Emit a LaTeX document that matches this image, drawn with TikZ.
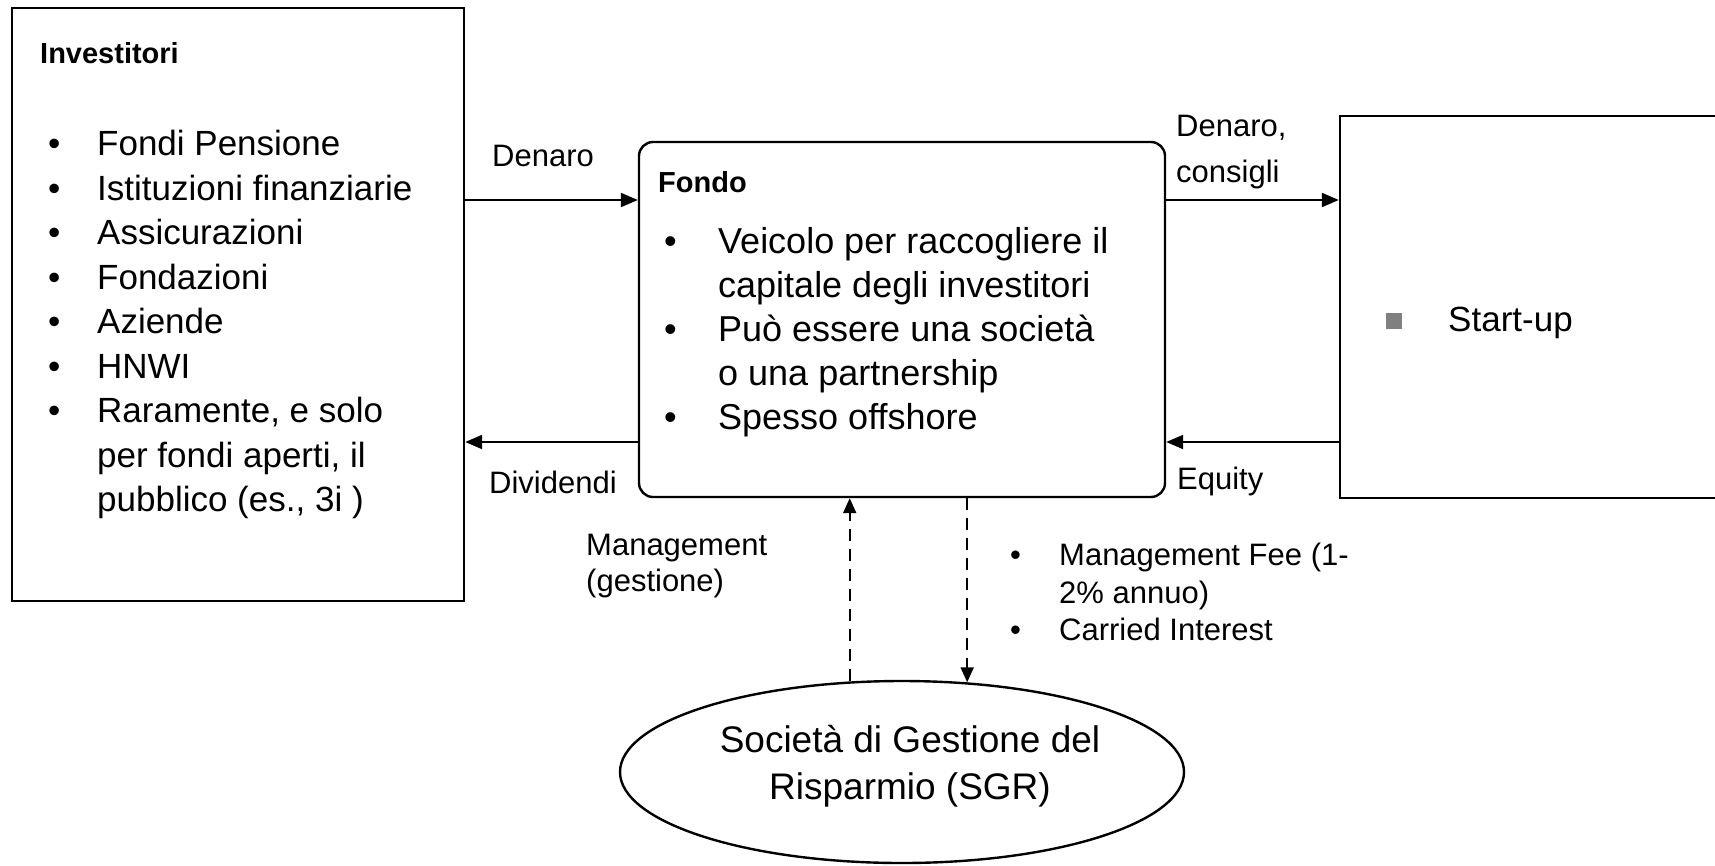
\documentclass[tikz,border=0pt]{standalone}
\usepackage{fontspec}
\setmainfont{Liberation Sans}
\usetikzlibrary{arrows.meta,shapes.geometric}

\definecolor{bulgray}{RGB}{128,128,128}
\newcommand{\bul}[1]{\makebox[#1][l]{\textbullet}}

\tikzset{
  box/.style={draw, line width=2.4pt, inner sep=0pt},
  flow/.style={line width=2pt, -{Triangle[length=17pt,width=14pt]}},
  dflow/.style={line width=2pt, dash pattern=on 12pt off 8pt, -{Triangle[length=15pt,width=13pt]}},
  big/.style={font=\fontsize{36}{44.5}\selectfont, align=left, inner sep=0pt},
  small/.style={font=\fontsize{31}{37.5}\selectfont, align=left, inner sep=0pt},
  title/.style={font=\fontsize{29}{35}\selectfont\bfseries, inner sep=0pt}
}

\begin{document}
\begin{tikzpicture}[x=1pt,y=-1pt]
  \clip (0,0) rectangle (1715,865);

  % boxes
  \node[box, minimum width=452pt, minimum height=593pt] (inv) at (238,304.5) {};
  \node[box, rounded corners=14pt, minimum width=526pt, minimum height=355pt] (fondo) at (902,319.5) {};
  \node[box, minimum width=420pt, minimum height=382pt] (startup) at (1550,307) {};
  \node[box, ellipse, minimum width=564pt, minimum height=182pt] (sgr) at (902,772) {};

  % texts in the boxes
  \node[title, anchor=base west] (invT) at (40,63) {Investitori};
  \node[big, anchor=north west, font=\fontsize{35}{44.5}\selectfont] (invL) at (48,130) {\bul{49pt}Fondi Pensione\\
    \bul{49pt}Istituzioni finanziarie\\
    \bul{49pt}Assicurazioni\\
    \bul{49pt}Fondazioni\\
    \bul{49pt}Aziende\\
    \bul{49pt}HNWI\\
    \bul{49pt}Raramente, e solo\\
    \hspace*{49pt}per fondi aperti, il\\
    \hspace*{49pt}pubblico (es., 3i )};

  \node[title, anchor=base west] (fondoT) at (658,192) {Fondo};
  \node[big, anchor=north west, font=\fontsize{36}{44}\selectfont] (fondoL) at (664,227) {\bul{54pt}Veicolo per raccogliere il\\
    \hspace*{54pt}capitale degli investitori\\
    \bul{54pt}Può essere una società\\
    \hspace*{54pt}o una partnership\\
    \bul{54pt}Spesso offshore};

  \node[big, anchor=base west, font=\fontsize{35}{44}\selectfont] (startupT) at (1386,331) {\textcolor{bulgray}{\raisebox{2pt}{\rule{16pt}{16pt}}}\hspace{46pt}Start-up};

  \node[big, align=center, font=\fontsize{37}{47}\selectfont] (sgrT) at (910,766) {Società di Gestione del\\Risparmio (SGR)};

  % flows
  \coordinate (hi) at (0,200);
  \coordinate (lo) at (0,442);
  \draw[flow] (inv.east |- hi) -- (fondo.west |- hi);
  \draw[flow] (fondo.west |- lo) -- (inv.east |- lo);
  \draw[flow] (fondo.east |- hi) -- (startup.west |- hi);
  \draw[flow] (startup.west |- lo) -- (fondo.east |- lo);
  \draw[dflow] (sgr.120) -- (sgr.120 |- fondo.south);
  \draw[dflow] (sgr.54 |- fondo.south) -- (sgr.54);

  % labels
  \node[small, anchor=base west] (lDen) at (492,166) {Denaro};
  \node[small, anchor=base west] (lDiv) at (489,493) {Dividendi};
  \node[small, anchor=north west, font=\fontsize{31}{46}\selectfont] (lDenC) at (1176,115) {Denaro,\\consigli};
  \node[small, anchor=base west] (lEq) at (1177,489) {Equity};
  \node[small, anchor=north west, font=\fontsize{31}{36}\selectfont] (lMan) at (586,534) {Management\\(gestione)};
  \node[small, anchor=north west] (lFee) at (1010,543) {\bul{49pt}Management Fee (1-\\
    \hspace*{49pt}2\% annuo)\\
    \bul{49pt}Carried Interest};
\end{tikzpicture}
\end{document}
